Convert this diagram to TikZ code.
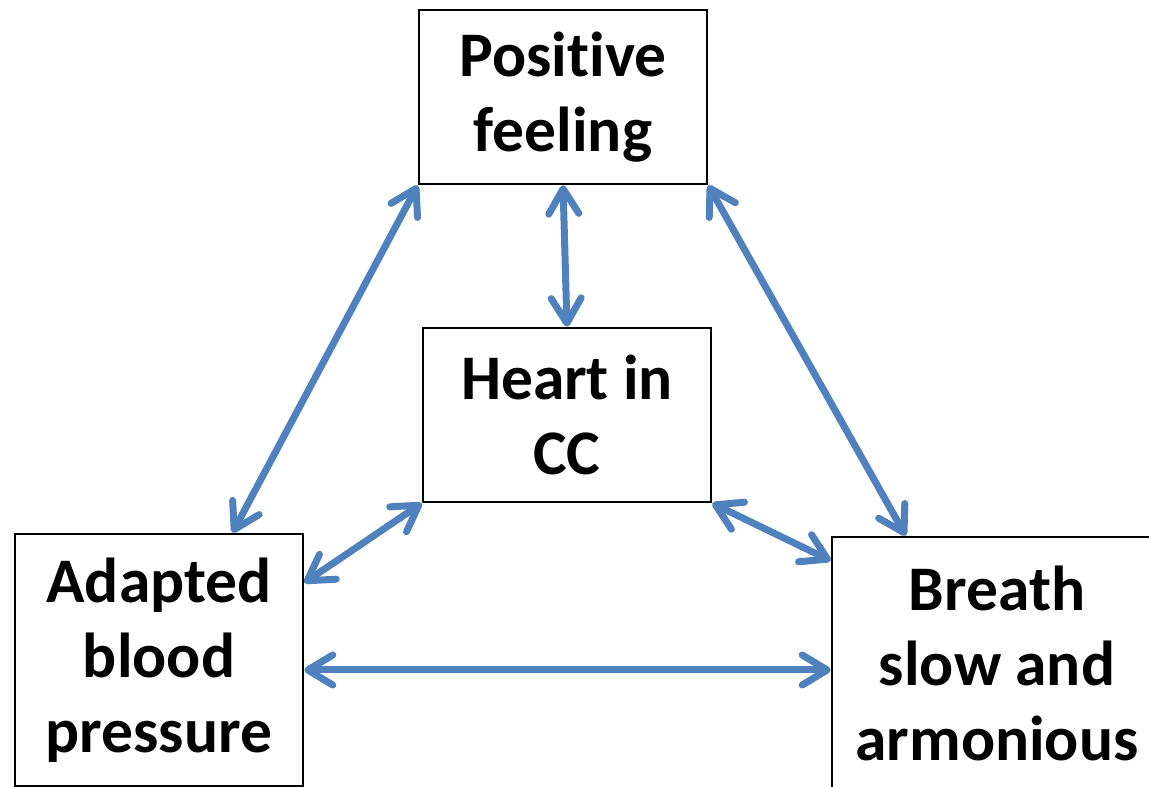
\documentclass[tikz,border=0pt]{standalone}
\usepackage{fontspec}
\setmainfont{Carlito}[Ligatures=NoCommon]
\usetikzlibrary{arrows.meta}
\definecolor{linkblue}{HTML}{4F81BD}
\tikzstyle{block} = [
    rectangle,
    draw=black,
    line width=2.6pt,
    align=center,
    inner sep=0pt,
    font=\bfseries\fontsize{63.5}{75}\selectfont
]
\tikzstyle{arrow} = [
    draw=linkblue,
    line width=7pt,
    line cap=round,
    {Straight Barb[length=25pt,width=30pt,round]}-{Straight Barb[length=25pt,width=30pt,round]}
]

\begin{document}
\begin{tikzpicture}[x=1pt, y=1pt]
\useasboundingbox (0,0) rectangle (1149,787);
\clip (0,0) rectangle (1149,787);

\node (pos) [block, minimum width=288pt, minimum height=174pt] at (563,690)
{Positive\\feeling};

\node (heart) [block, minimum width=288pt, minimum height=174pt] at (567,372)
{Heart in\\CC};

\node (adapt) [block, minimum width=288pt, minimum height=252pt] at (159,127)
{Adapted\\blood\\pressure};

% box runs on past the right edge of the picture
\node (breath) [block, minimum width=330pt, minimum height=252pt] at (997,124)
{Breath\\slow and\\armonious};

\draw [arrow] (pos.south west) -- (adapt.60);
\draw [arrow] (pos.south) -- (heart.north);
\draw [arrow] (pos.south east) -- ([xshift=75pt]breath.north west);
\draw [arrow] (heart.south west) -- (adapt.28);
\draw [arrow] (heart.south east) -- ([yshift=-25pt]breath.north west);
\draw [arrow] ([yshift=-10pt]adapt.east) -- ([yshift=-7pt]breath.west);

\end{tikzpicture}
\end{document}
